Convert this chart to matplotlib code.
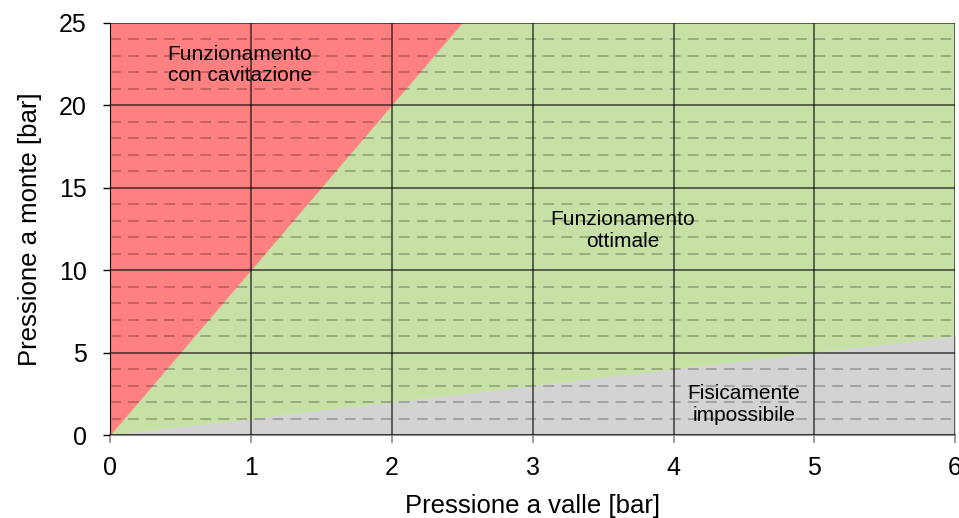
import matplotlib
matplotlib.use("Agg")
import matplotlib.pyplot as plt
from matplotlib.ticker import MultipleLocator

plt.rcParams['font.family'] = ['Liberation Sans', 'DejaVu Sans']

# pressione a valle [bar]
pressione_valle = [0, 1, 2, 3, 4, 5, 6]
# limite inferiore: pressione a monte = pressione a valle
limite_impossibile = [0, 1, 2, 3, 4, 5, 6]
# limite di cavitazione: pressione a monte = 10 x pressione a valle
limite_cavitazione = [0, 10, 20, 30, 40, 50, 60]
y_max = 25

etichette = ["Funzionamento\ncon cavitazione", "Funzionamento\nottimale", "Fisicamente\nimpossibile"]
pos_etichette = [(0.92, 22.45), (3.64, 12.4), (4.5, 1.85)]

fig, ax = plt.subplots(figsize=(9.59, 5.18), dpi=100)
fig.subplots_adjust(left=0.115, right=0.996, bottom=0.16, top=0.956)

ax.fill_between(pressione_valle, 0, limite_impossibile, facecolor='#d3d3d3', edgecolor='#d3d3d3', lw=0.6, zorder=1)
ax.fill_between(pressione_valle, limite_impossibile, limite_cavitazione, facecolor='#c6e0a5', edgecolor='#c6e0a5', lw=0.6, zorder=1)
ax.fill_between(pressione_valle, limite_cavitazione, y_max, facecolor='#ff8080', edgecolor='#ff8080', lw=0.6, zorder=1)

ax.set_xlim(0, 6)
ax.set_ylim(0, y_max)
ax.xaxis.set_major_locator(MultipleLocator(1))
ax.yaxis.set_major_locator(MultipleLocator(5))
ax.yaxis.set_minor_locator(MultipleLocator(1))

ax.set_axisbelow(False)
ax.grid(which='major', color='black', alpha=0.6, lw=1.3)
ax.grid(which='minor', axis='y', color='black', alpha=0.25, lw=1.3, linestyle=(0, (6, 4)))

for s in ['top', 'right']:
    ax.spines[s].set_visible(False)
ax.spines['left'].set_color('black')
ax.spines['bottom'].set_color('#8c8c8c')
ax.spines['bottom'].set_linewidth(1.5)
ax.tick_params(axis='x', which='major', colors='#8c8c8c', length=6, width=1.2, labelcolor='black', labelsize=18, pad=9)
ax.tick_params(axis='y', which='major', colors='black', length=5, width=1, labelsize=18, pad=12)
ax.tick_params(axis='y', which='minor', length=0)

ax.set_xlabel("Pressione a valle [bar]", fontsize=18.5, labelpad=10)
ax.set_ylabel("Pressione a monte [bar]", fontsize=18.5, labelpad=12)

for testo, (x, y) in zip(etichette, pos_etichette):
    ax.text(x, y, testo, ha='center', va='center', fontsize=15, linespacing=1.15)

fig.savefig("out.png", dpi=100)
